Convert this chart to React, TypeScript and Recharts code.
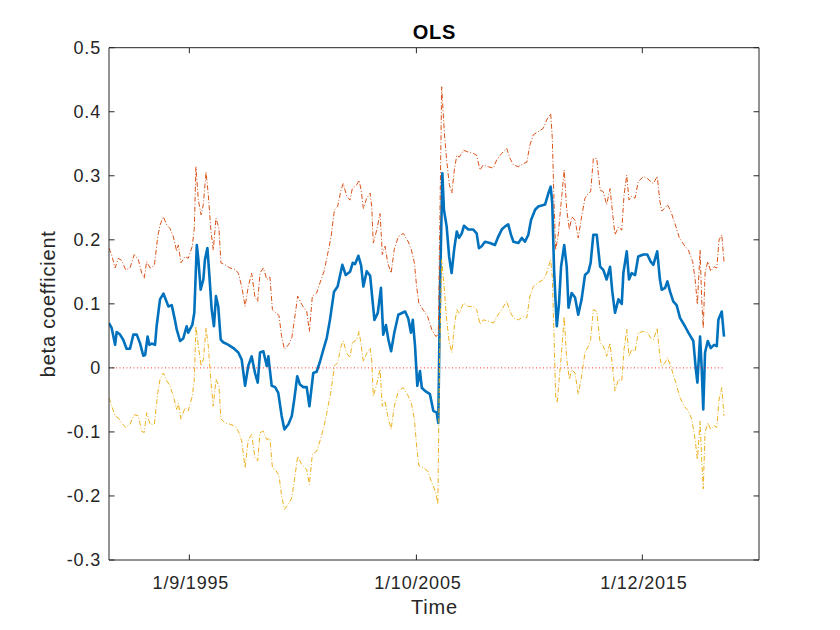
import React from 'react';
import { LineChart, Line, XAxis, YAxis } from 'recharts';

const FONT = '"Liberation Sans", Arial, Helvetica, sans-serif';
const AXIS = '#262626';

const xTickValues = [1995.82, 2005.88, 2015.89];
const xTickLabels = ['1/9/1995', '1/10/2005', '1/12/2015'];
const yTickValues = [-0.3, -0.2, -0.1, 0, 0.1, 0.2, 0.3, 0.4, 0.5];
const xDomain: [number, number] = [1992.26, 2021.06];
const yDomain: [number, number] = [-0.3, 0.5];

const betaEstimate: [number, number][] = [
  [1992.26, 0.07], [1992.38, 0.062], [1992.53, 0.036], [1992.6, 0.056], [1992.75, 0.052],
  [1992.89, 0.044], [1993.04, 0.03], [1993.19, 0.03], [1993.34, 0.052], [1993.49, 0.052],
  [1993.63, 0.039], [1993.78, 0.019], [1993.86, 0.02], [1993.97, 0.049], [1994.05, 0.036],
  [1994.15, 0.038], [1994.3, 0.036], [1994.37, 0.065], [1994.52, 0.107], [1994.67, 0.116],
  [1994.74, 0.11], [1994.89, 0.096], [1995.04, 0.098], [1995.18, 0.075], [1995.26, 0.06],
  [1995.41, 0.042], [1995.55, 0.046], [1995.7, 0.065], [1995.77, 0.055], [1995.95, 0.067],
  [1996.04, 0.086], [1996.15, 0.192], [1996.22, 0.169], [1996.32, 0.122], [1996.44, 0.138],
  [1996.51, 0.169], [1996.62, 0.187], [1996.7, 0.148], [1996.81, 0.091], [1996.91, 0.065],
  [1997.0, 0.112], [1997.1, 0.096], [1997.21, 0.044], [1997.32, 0.04], [1997.55, 0.036],
  [1997.77, 0.031], [1997.99, 0.024], [1998.14, 0.013], [1998.29, -0.028], [1998.43, 0.003],
  [1998.58, 0.018], [1998.73, -0.008], [1998.85, -0.023], [1998.95, 0.024], [1999.1, 0.026],
  [1999.25, 0.003], [1999.32, 0.018], [1999.47, -0.028], [1999.62, -0.03], [1999.76, -0.039],
  [1999.91, -0.075], [2000.03, -0.096], [2000.21, -0.088], [2000.36, -0.075], [2000.47, -0.049],
  [2000.6, -0.013], [2000.72, -0.026], [2000.87, -0.03], [2001.02, -0.03], [2001.14, -0.06],
  [2001.31, -0.008], [2001.46, -0.006], [2001.61, 0.01], [2001.76, 0.029], [2001.91, 0.047],
  [2002.05, 0.075], [2002.23, 0.119], [2002.39, 0.127], [2002.6, 0.161], [2002.75, 0.145],
  [2002.94, 0.15], [2003.06, 0.164], [2003.16, 0.162], [2003.31, 0.175], [2003.43, 0.16],
  [2003.53, 0.127], [2003.68, 0.151], [2003.83, 0.144], [2004.02, 0.075], [2004.17, 0.086],
  [2004.31, 0.125], [2004.41, 0.052], [2004.53, 0.067], [2004.64, 0.044], [2004.76, 0.026],
  [2004.9, 0.055], [2005.08, 0.083], [2005.38, 0.088], [2005.52, 0.077], [2005.64, 0.055],
  [2005.72, 0.075], [2005.82, 0.034], [2005.92, -0.028], [2006.04, -0.005], [2006.12, -0.031],
  [2006.26, -0.036], [2006.48, -0.041], [2006.63, -0.067], [2006.78, -0.07], [2006.85, -0.086],
  [2006.93, 0.127], [2007.03, 0.304], [2007.1, 0.247], [2007.22, 0.221], [2007.33, 0.174],
  [2007.44, 0.148], [2007.56, 0.187], [2007.67, 0.213], [2007.77, 0.203], [2007.89, 0.21],
  [2007.99, 0.222], [2008.18, 0.216], [2008.4, 0.216], [2008.55, 0.21], [2008.65, 0.187],
  [2008.77, 0.19], [2008.92, 0.197], [2009.14, 0.195], [2009.36, 0.192], [2009.51, 0.205],
  [2009.66, 0.216], [2009.81, 0.221], [2009.95, 0.224], [2010.07, 0.208], [2010.18, 0.197],
  [2010.4, 0.195], [2010.55, 0.203], [2010.69, 0.197], [2010.84, 0.208], [2010.96, 0.231],
  [2011.14, 0.247], [2011.28, 0.252], [2011.58, 0.255], [2011.73, 0.273], [2011.83, 0.283],
  [2011.9, 0.257], [2011.98, 0.153], [2012.1, 0.065], [2012.2, 0.101], [2012.29, 0.158],
  [2012.43, 0.192], [2012.54, 0.158], [2012.62, 0.094], [2012.76, 0.117], [2012.91, 0.11],
  [2013.05, 0.083], [2013.2, 0.107], [2013.35, 0.145], [2013.5, 0.15], [2013.6, 0.164],
  [2013.72, 0.208], [2013.87, 0.208], [2014.02, 0.158], [2014.16, 0.153], [2014.31, 0.138],
  [2014.46, 0.158], [2014.56, 0.119], [2014.68, 0.086], [2014.83, 0.107], [2014.98, 0.1],
  [2015.05, 0.148], [2015.2, 0.182], [2015.3, 0.138], [2015.42, 0.148], [2015.57, 0.145],
  [2015.71, 0.174], [2015.94, 0.177], [2016.11, 0.177], [2016.26, 0.166], [2016.38, 0.161],
  [2016.55, 0.182], [2016.67, 0.138], [2016.75, 0.122], [2016.9, 0.125], [2017.0, 0.135],
  [2017.12, 0.119], [2017.26, 0.104], [2017.41, 0.098], [2017.56, 0.078], [2017.78, 0.065],
  [2017.93, 0.055], [2018.15, 0.042], [2018.26, -0.002], [2018.33, -0.023], [2018.45, 0.049],
  [2018.52, 0.0], [2018.59, -0.065], [2018.67, 0.024], [2018.79, 0.042], [2018.92, 0.031],
  [2019.07, 0.036], [2019.19, 0.034], [2019.26, 0.075], [2019.41, 0.088], [2019.51, 0.049],
];

const upperBand: [number, number][] = [
  [1992.26, 0.187], [1992.38, 0.176], [1992.53, 0.156], [1992.67, 0.171], [1992.82, 0.168],
  [1993.0, 0.153], [1993.19, 0.156], [1993.38, 0.177], [1993.56, 0.169], [1993.71, 0.148],
  [1993.82, 0.14], [1993.93, 0.166], [1994.08, 0.156], [1994.27, 0.16], [1994.42, 0.205],
  [1994.52, 0.223], [1994.67, 0.236], [1994.82, 0.223], [1994.96, 0.218], [1995.11, 0.205],
  [1995.26, 0.182], [1995.33, 0.192], [1995.45, 0.164], [1995.63, 0.174], [1995.77, 0.171],
  [1995.95, 0.19], [1996.04, 0.218], [1996.11, 0.314], [1996.22, 0.262], [1996.34, 0.239],
  [1996.44, 0.255], [1996.56, 0.306], [1996.66, 0.27], [1996.78, 0.213], [1996.88, 0.184],
  [1997.0, 0.234], [1997.13, 0.218], [1997.22, 0.164], [1997.4, 0.161], [1997.62, 0.156],
  [1997.84, 0.154], [1997.99, 0.148], [1998.14, 0.127], [1998.29, 0.096], [1998.43, 0.127],
  [1998.58, 0.148], [1998.73, 0.11], [1998.85, 0.104], [1998.95, 0.148], [1999.1, 0.156],
  [1999.25, 0.138], [1999.39, 0.142], [1999.5, 0.091], [1999.65, 0.086], [1999.79, 0.082],
  [1999.91, 0.049], [2000.03, 0.029], [2000.21, 0.036], [2000.36, 0.047], [2000.5, 0.081],
  [2000.62, 0.112], [2000.8, 0.099], [2001.02, 0.088], [2001.14, 0.057], [2001.27, 0.112],
  [2001.46, 0.117], [2001.61, 0.133], [2001.79, 0.151], [2001.91, 0.171], [2002.1, 0.205],
  [2002.25, 0.247], [2002.39, 0.252], [2002.54, 0.278], [2002.64, 0.288], [2002.79, 0.268],
  [2002.94, 0.262], [2003.04, 0.28], [2003.24, 0.286], [2003.34, 0.293], [2003.43, 0.278],
  [2003.53, 0.249], [2003.68, 0.265], [2003.83, 0.273], [2003.9, 0.252], [2003.97, 0.195],
  [2004.12, 0.215], [2004.27, 0.241], [2004.37, 0.177], [2004.49, 0.19], [2004.61, 0.164],
  [2004.76, 0.148], [2004.9, 0.185], [2005.08, 0.205], [2005.3, 0.21], [2005.52, 0.197],
  [2005.66, 0.184], [2005.79, 0.164], [2005.89, 0.127], [2005.99, 0.101], [2006.19, 0.09],
  [2006.38, 0.08], [2006.56, 0.06], [2006.74, 0.049], [2006.85, 0.052], [2006.93, 0.257],
  [2007.0, 0.439], [2007.12, 0.366], [2007.22, 0.325], [2007.34, 0.286], [2007.45, 0.273],
  [2007.56, 0.309], [2007.67, 0.332], [2007.78, 0.329], [2007.96, 0.34], [2008.18, 0.337],
  [2008.4, 0.335], [2008.55, 0.332], [2008.7, 0.309], [2008.84, 0.317], [2009.07, 0.314],
  [2009.29, 0.312], [2009.44, 0.325], [2009.66, 0.335], [2009.88, 0.343], [2010.03, 0.327],
  [2010.18, 0.317], [2010.4, 0.314], [2010.62, 0.319], [2010.77, 0.321], [2010.91, 0.348],
  [2011.06, 0.364], [2011.28, 0.369], [2011.5, 0.374], [2011.65, 0.387], [2011.83, 0.397],
  [2011.9, 0.36], [2011.98, 0.257], [2012.05, 0.184], [2012.17, 0.21], [2012.29, 0.257],
  [2012.43, 0.309], [2012.54, 0.247], [2012.66, 0.216], [2012.76, 0.236], [2012.91, 0.231],
  [2013.05, 0.203], [2013.2, 0.236], [2013.35, 0.265], [2013.5, 0.273], [2013.6, 0.275],
  [2013.72, 0.327], [2013.87, 0.327], [2014.02, 0.278], [2014.16, 0.275], [2014.31, 0.255],
  [2014.46, 0.28], [2014.58, 0.239], [2014.68, 0.208], [2014.83, 0.22], [2014.98, 0.215],
  [2015.08, 0.27], [2015.2, 0.301], [2015.3, 0.262], [2015.42, 0.268], [2015.57, 0.265],
  [2015.71, 0.291], [2015.94, 0.299], [2016.11, 0.296], [2016.26, 0.291], [2016.38, 0.288],
  [2016.55, 0.299], [2016.67, 0.26], [2016.75, 0.245], [2016.9, 0.25], [2017.0, 0.255],
  [2017.15, 0.245], [2017.3, 0.229], [2017.42, 0.216], [2017.53, 0.203], [2017.74, 0.192],
  [2017.93, 0.184], [2018.12, 0.166], [2018.23, 0.138], [2018.33, 0.099], [2018.45, 0.184],
  [2018.52, 0.107], [2018.59, 0.062], [2018.67, 0.148], [2018.79, 0.166], [2018.92, 0.151],
  [2019.07, 0.158], [2019.19, 0.156], [2019.29, 0.2], [2019.41, 0.208], [2019.51, 0.166],
];

const lowerBand: [number, number][] = [
  [1992.26, -0.047], [1992.38, -0.059], [1992.53, -0.075], [1992.67, -0.078], [1992.82, -0.086],
  [1993.0, -0.093], [1993.19, -0.088], [1993.38, -0.073], [1993.56, -0.075], [1993.71, -0.099],
  [1993.82, -0.101], [1993.93, -0.07], [1994.08, -0.088], [1994.27, -0.088], [1994.42, -0.039],
  [1994.52, -0.018], [1994.67, -0.008], [1994.82, -0.02], [1994.96, -0.028], [1995.11, -0.044],
  [1995.26, -0.065], [1995.33, -0.055], [1995.45, -0.08], [1995.63, -0.062], [1995.77, -0.067],
  [1995.95, -0.044], [1996.04, -0.018], [1996.11, 0.065], [1996.22, 0.034], [1996.34, 0.003],
  [1996.44, 0.013], [1996.56, 0.062], [1996.66, 0.034], [1996.78, -0.023], [1996.88, -0.06],
  [1997.0, -0.018], [1997.13, -0.028], [1997.22, -0.08], [1997.4, -0.086], [1997.62, -0.088],
  [1997.84, -0.091], [1997.99, -0.099], [1998.14, -0.114], [1998.29, -0.156], [1998.43, -0.112],
  [1998.58, -0.104], [1998.73, -0.14], [1998.85, -0.145], [1998.95, -0.101], [1999.1, -0.099],
  [1999.25, -0.112], [1999.39, -0.11], [1999.5, -0.156], [1999.65, -0.16], [1999.79, -0.168],
  [1999.91, -0.2], [2000.03, -0.221], [2000.21, -0.213], [2000.36, -0.203], [2000.5, -0.169],
  [2000.62, -0.138], [2000.8, -0.151], [2001.02, -0.159], [2001.14, -0.182], [2001.27, -0.135],
  [2001.46, -0.13], [2001.61, -0.114], [2001.79, -0.091], [2001.91, -0.07], [2002.1, -0.036],
  [2002.25, 0.003], [2002.39, 0.008], [2002.54, 0.034], [2002.64, 0.042], [2002.79, 0.023],
  [2002.94, 0.016], [2003.04, 0.039], [2003.24, 0.044], [2003.34, 0.057], [2003.43, 0.036],
  [2003.53, 0.01], [2003.68, 0.023], [2003.83, 0.031], [2003.9, 0.012], [2003.97, -0.044],
  [2004.12, -0.026], [2004.27, -0.002], [2004.37, -0.06], [2004.49, -0.052], [2004.61, -0.075],
  [2004.76, -0.096], [2004.9, -0.06], [2005.08, -0.036], [2005.3, -0.031], [2005.52, -0.044],
  [2005.66, -0.056], [2005.79, -0.08], [2005.89, -0.122], [2005.99, -0.153], [2006.19, -0.156],
  [2006.38, -0.161], [2006.56, -0.179], [2006.74, -0.195], [2006.83, -0.213], [2006.9, -0.002],
  [2007.0, 0.169], [2007.12, 0.122], [2007.22, 0.075], [2007.34, 0.039], [2007.45, 0.024],
  [2007.56, 0.065], [2007.67, 0.091], [2007.78, 0.085], [2007.96, 0.101], [2008.18, 0.096],
  [2008.4, 0.096], [2008.55, 0.091], [2008.7, 0.068], [2008.84, 0.075], [2009.07, 0.073],
  [2009.29, 0.07], [2009.44, 0.08], [2009.66, 0.091], [2009.88, 0.104], [2010.03, 0.088],
  [2010.18, 0.078], [2010.4, 0.075], [2010.62, 0.08], [2010.77, 0.078], [2010.91, 0.112],
  [2011.06, 0.127], [2011.28, 0.133], [2011.5, 0.138], [2011.65, 0.148], [2011.83, 0.169],
  [2011.9, 0.143], [2011.98, 0.049], [2012.05, -0.044], [2012.12, -0.054], [2012.2, -0.02],
  [2012.29, 0.015], [2012.43, 0.08], [2012.54, 0.013], [2012.66, -0.018], [2012.76, -0.003],
  [2012.91, -0.008], [2013.05, -0.041], [2013.2, -0.013], [2013.35, 0.024], [2013.5, 0.034],
  [2013.6, 0.044], [2013.72, 0.091], [2013.87, 0.088], [2014.02, 0.039], [2014.16, 0.034],
  [2014.31, 0.018], [2014.46, 0.039], [2014.58, -0.002], [2014.68, -0.036], [2014.83, -0.018],
  [2014.98, -0.02], [2015.08, 0.029], [2015.2, 0.06], [2015.3, 0.018], [2015.42, 0.029],
  [2015.57, 0.026], [2015.71, 0.055], [2015.94, 0.057], [2016.11, 0.055], [2016.26, 0.047],
  [2016.38, 0.044], [2016.55, 0.062], [2016.67, 0.016], [2016.75, 0.003], [2016.9, 0.008],
  [2017.0, 0.016], [2017.15, 0.003], [2017.3, -0.015], [2017.42, -0.028], [2017.53, -0.044],
  [2017.74, -0.06], [2017.93, -0.067], [2018.08, -0.08], [2018.23, -0.112], [2018.33, -0.143],
  [2018.45, -0.083], [2018.52, -0.143], [2018.59, -0.189], [2018.67, -0.101], [2018.79, -0.086],
  [2018.92, -0.096], [2019.07, -0.09], [2019.19, -0.093], [2019.29, -0.049], [2019.41, -0.031],
  [2019.51, -0.075],
];

const zeroLine: [number, number][] = [[1992.26, 0], [2019.51, 0]];

const toRows = (pairs: [number, number][]) => pairs.map(([t, v]) => ({ t, v }));

const TICK_LEN = 5.5;
const textStyle = { fontFamily: FONT, fill: AXIS, letterSpacing: '0.8px' } as const;

const fmtY = (v: number) => (Math.abs(v) < 1e-9 ? '0' : v.toFixed(1));

const LeftTick = (props: any) => {
  const { x, y, payload } = props;
  return (
    <g>
      <line x1={x} y1={y} x2={x + TICK_LEN} y2={y} stroke={AXIS} strokeWidth={1} />
      <text x={x - 8} y={y} dy="0.36em" textAnchor="end" fontSize={18} {...textStyle}>
        {fmtY(payload.value)}
      </text>
    </g>
  );
};

const RightTick = (props: any) => {
  const { x, y } = props;
  return <line x1={x} y1={y} x2={x - TICK_LEN} y2={y} stroke={AXIS} strokeWidth={1} />;
};

const BottomTick = (props: any) => {
  const { x, y, payload } = props;
  const idx = xTickValues.indexOf(payload.value);
  return (
    <g>
      <line x1={x} y1={y} x2={x} y2={y - TICK_LEN} stroke={AXIS} strokeWidth={1} />
      <text x={x + 1.5} y={y + 29.3} textAnchor="middle" fontSize={18} {...textStyle}>
        {idx >= 0 ? xTickLabels[idx] : ''}
      </text>
    </g>
  );
};

const TopTick = (props: any) => {
  const { x, y } = props;
  return <line x1={x} y1={y} x2={x} y2={y + TICK_LEN} stroke={AXIS} strokeWidth={1} />;
};

export default function App() {
  return (
    <div style={{ position: 'absolute', left: 0, top: 0, width: 840, height: 630, background: '#fff' }}>
      <LineChart
        width={840}
        height={630}
        margin={{ top: 46.7, right: 80, bottom: 0, left: 0 }}
        style={{ background: '#fff' }}
      >
        <XAxis
          xAxisId={0}
          dataKey="t"
          type="number"
          domain={xDomain}
          ticks={xTickValues}
          interval={0}
          allowDataOverflow
          height={70}
          tickSize={0}
          tickMargin={0}
          tickLine={false}
          axisLine={{ stroke: AXIS, strokeWidth: 1 }}
          tick={<BottomTick />}
        />
        <XAxis
          xAxisId="top"
          orientation="top"
          dataKey="t"
          type="number"
          domain={xDomain}
          ticks={xTickValues}
          interval={0}
          allowDataOverflow
          height={1}
          tickSize={0}
          tickMargin={0}
          tickLine={false}
          axisLine={{ stroke: AXIS, strokeWidth: 1 }}
          tick={<TopTick />}
        />
        <YAxis
          yAxisId={0}
          type="number"
          domain={yDomain}
          ticks={yTickValues}
          interval={0}
          allowDataOverflow
          width={109}
          tickSize={0}
          tickMargin={0}
          tickLine={false}
          axisLine={{ stroke: AXIS, strokeWidth: 1 }}
          tick={<LeftTick />}
        />
        <YAxis
          yAxisId="right"
          orientation="right"
          type="number"
          domain={yDomain}
          ticks={yTickValues}
          interval={0}
          allowDataOverflow
          width={1}
          tickSize={0}
          tickMargin={0}
          tickLine={false}
          axisLine={{ stroke: AXIS, strokeWidth: 1 }}
          tick={<RightTick />}
        />
        <Line
          data={toRows(betaEstimate)}
          dataKey="v"
          type="linear"
          stroke="#0072BD"
          strokeWidth={2.6}
          dot={false}
          activeDot={false}
          isAnimationActive={false}
          strokeLinejoin="round"
        />
        <Line
          data={toRows(upperBand)}
          dataKey="v"
          type="linear"
          stroke="#D95319"
          strokeWidth={1}
          strokeDasharray="5 2 1 2"
          dot={false}
          activeDot={false}
          isAnimationActive={false}
        />
        <Line
          data={toRows(lowerBand)}
          dataKey="v"
          type="linear"
          stroke="#EDB120"
          strokeWidth={1}
          strokeDasharray="5 2 1 2"
          dot={false}
          activeDot={false}
          isAnimationActive={false}
        />
        <Line
          data={toRows(zeroLine)}
          dataKey="v"
          type="linear"
          stroke="#FF0000"
          strokeWidth={0.8}
          strokeDasharray="1 2.5"
          dot={false}
          activeDot={false}
          isAnimationActive={false}
        />
      </LineChart>
      <svg
        width={840}
        height={630}
        style={{ position: 'absolute', left: 0, top: 0, pointerEvents: 'none' }}
      >
        <text x={434.5} y={39.3} textAnchor="middle" fontSize={20} fontWeight="bold" fontFamily={FONT} fill="#000" letterSpacing="0.8px">
          OLS
        </text>
        <text x={434.5} y={614} textAnchor="middle" fontSize={20} {...textStyle}>
          Time
        </text>
        <text transform="translate(55,303.8) rotate(-90)" textAnchor="middle" fontSize={20} {...textStyle}>
          beta coefficient
        </text>
      </svg>
    </div>
  );
}
